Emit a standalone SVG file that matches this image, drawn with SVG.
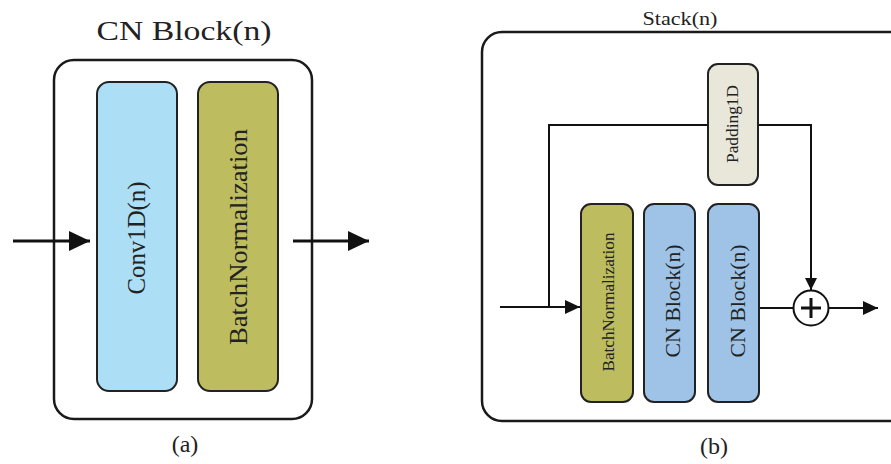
<svg xmlns="http://www.w3.org/2000/svg" width="891" height="464" viewBox="0 0 891 464">
  <style>
    .lbl { font-family: "Liberation Serif", "Times New Roman", serif; fill: #222; }
    .frame { fill: #fff; stroke: #1a1a1a; stroke-width: 2.5; }
    .box { stroke: #222; stroke-width: 2; }
    .wire { fill: none; stroke: #111; stroke-width: 2; }
    .wireA { fill: none; stroke: #111; stroke-width: 3; }
  </style>
  <defs>
    <marker id="headA" markerUnits="userSpaceOnUse" markerWidth="24" markerHeight="22" refX="21" refY="10" orient="auto">
      <path d="M0,0 L21,10 L0,20 Z" fill="#111"/>
    </marker>
    <marker id="headB" markerUnits="userSpaceOnUse" markerWidth="16" markerHeight="16" refX="15" refY="7" orient="auto">
      <path d="M0,0 L15,7 L0,14 Z" fill="#111"/>
    </marker>
    <marker id="headC" markerUnits="userSpaceOnUse" markerWidth="14" markerHeight="14" refX="12" refY="6" orient="auto">
      <path d="M0,0 L12,6 L0,12 Z" fill="#111"/>
    </marker>
  </defs>

  <rect width="891" height="464" fill="#fff"/>

  <!-- (a) CN Block -->
  <g id="cn-block">
    <text class="lbl" x="184" y="40" font-size="28" text-anchor="middle" textLength="175" lengthAdjust="spacingAndGlyphs">CN Block(n)</text>
    <rect class="frame" x="54" y="60" width="258" height="359" rx="20"/>
  </g>
  <g id="conv1d">
    <rect class="box" x="97" y="82" width="80" height="309" rx="12" fill="#acdff6"/>
    <text class="lbl" transform="translate(145,238) rotate(-90)" font-size="26" text-anchor="middle" textLength="113" lengthAdjust="spacingAndGlyphs">Conv1D(n)</text>
  </g>
  <g id="bn-a">
    <rect class="box" x="198" y="82" width="80" height="309" rx="12" fill="#bdbd5f"/>
    <text class="lbl" transform="translate(247,237) rotate(-90)" font-size="26" text-anchor="middle" textLength="216" lengthAdjust="spacingAndGlyphs">BatchNormalization</text>
  </g>
  <text class="lbl" x="185" y="452" font-size="24" text-anchor="middle">(a)</text>

  <!-- (b) Stack -->
  <g id="stack">
    <text class="lbl" x="680" y="25" font-size="19" text-anchor="middle" textLength="75" lengthAdjust="spacingAndGlyphs">Stack(n)</text>
    <rect class="frame" x="482" y="32" width="440" height="389" rx="20"/>
  </g>

  <g id="connectors">
    <!-- (a) input / output -->
    <line class="wireA" x1="13" y1="241" x2="90" y2="241" marker-end="url(#headA)"/>
    <line class="wireA" x1="293" y1="241" x2="369" y2="241" marker-end="url(#headA)"/>
    <!-- (b) main path -->
    <line class="wire" x1="500" y1="307" x2="580" y2="307" marker-end="url(#headB)"/>
    <line class="wire" x1="759" y1="308" x2="794" y2="308"/>
    <line class="wire" x1="828" y1="308" x2="878" y2="308" marker-end="url(#headB)"/>
    <!-- (b) skip path through padding -->
    <polyline class="wire" points="549,307 549,125 708,125"/>
    <polyline class="wire" points="758,125 811,125 811,290" marker-end="url(#headC)"/>
  </g>

  <g id="padding1d">
    <rect class="box" x="708" y="64" width="50" height="121" rx="10" fill="#e9e7da"/>
    <text class="lbl" transform="translate(738,124) rotate(-90)" font-size="16" text-anchor="middle" textLength="78" lengthAdjust="spacingAndGlyphs">Padding1D</text>
  </g>
  <g id="bn-b">
    <rect class="box" x="581" y="204" width="52" height="198" rx="10" fill="#bdbd5f"/>
    <text class="lbl" transform="translate(614,302) rotate(-90)" font-size="16" text-anchor="middle" textLength="139" lengthAdjust="spacingAndGlyphs">BatchNormalization</text>
  </g>
  <g id="cn-block-1">
    <rect class="box" x="644" y="204" width="51" height="198" rx="10" fill="#9ec3e6"/>
    <text class="lbl" transform="translate(680,301) rotate(-90)" font-size="22" text-anchor="middle" textLength="113" lengthAdjust="spacingAndGlyphs">CN Block(n)</text>
  </g>
  <g id="cn-block-2">
    <rect class="box" x="708" y="204" width="51" height="198" rx="10" fill="#9ec3e6"/>
    <text class="lbl" transform="translate(745,301) rotate(-90)" font-size="22" text-anchor="middle" textLength="113" lengthAdjust="spacingAndGlyphs">CN Block(n)</text>
  </g>
  <g id="add">
    <circle cx="811" cy="308" r="17.5" fill="#fff" stroke="#111" stroke-width="2"/>
    <path d="M801,308 H821 M811,298 V318" stroke="#111" stroke-width="3"/>
  </g>
  <text class="lbl" x="714" y="454" font-size="24" text-anchor="middle">(b)</text>
</svg>
